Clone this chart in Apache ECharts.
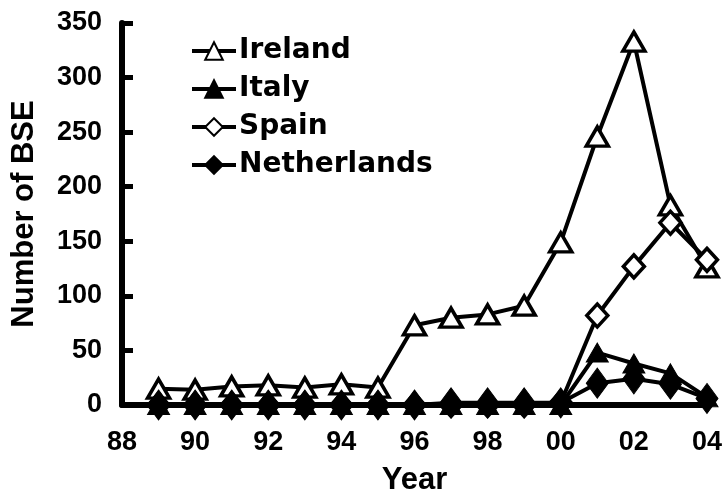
<!DOCTYPE html>
<html>
<head>
<meta charset="utf-8">
<script src="https://cdn.jsdelivr.net/npm/echarts@6/dist/echarts.min.js"></script>
<style>
  html, body { margin: 0; padding: 0; background: #fff; }
  #chart { width: 725px; height: 501px; }
</style>
</head>
<body>
<div id="chart"></div>
<script>
// Annual BSE cases, 1989-2004
const years = [1989, 1990, 1991, 1992, 1993, 1994, 1995, 1996, 1997, 1998, 1999, 2000, 2001, 2002, 2003, 2004];
const ireland = [15, 14, 17, 18, 16, 19, 16, 73, 80, 83, 91, 149, 246, 333, 183, 126];
const italy = [0, 0, 0, 0, 0, 0, 0, 0, 0, 0, 0, 0, 48, 38, 29, 7];
const spain = [0, 0, 0, 0, 0, 0, 0, 0, 0, 0, 0, 2, 82, 127, 167, 133];
const netherlands = [0, 0, 0, 0, 0, 0, 0, 0, 2, 2, 2, 2, 20, 24, 19, 6];

const xTicks = { min: 1988, max: 2004, step: 2 };
const yTicks = { min: 0, max: 350, step: 50 };

const FONT = '"Liberation Sans", Arial, sans-serif';
const WIDE_FONT = '"DejaVu Sans", sans-serif';
const INK = '#000';

function pairs(vals) {
  return years.map((y, i) => [y, vals[i]]);
}

function lineSeries(name, vals, symbol, size, hollow) {
  return {
    name: name,
    type: 'line',
    data: pairs(vals),
    symbol: symbol,
    symbolSize: size,
    showAllSymbol: true,
    lineStyle: { color: INK, width: 4 },
    itemStyle: {
      color: hollow ? '#fff' : INK,
      borderColor: INK,
      borderWidth: hollow ? 3.5 : 1
    },
    emphasis: { disabled: true },
    animation: false
  };
}

const chart = echarts.init(document.getElementById('chart'), null, { renderer: 'canvas' });

chart.setOption({
  backgroundColor: '#fff',
  animation: false,
  grid: { left: 122, right: 17, top: 23, bottom: 95, containLabel: false },
  legend: {
    orient: 'vertical',
    left: 190,
    top: 37,
    padding: 0,
    itemGap: 10,
    itemWidth: 44,
    itemHeight: 22,
    lineStyle: { width: 'inherit' },
    textStyle: {
      fontFamily: WIDE_FONT, fontWeight: 'bold', fontSize: 28, color: INK,
      lineHeight: 24, padding: [0, 0, 0, -2]
    },
    data: ['Ireland', 'Italy', 'Spain', 'Netherlands']
  },
  xAxis: {
    type: 'value',
    min: xTicks.min,
    max: xTicks.max,
    interval: xTicks.step,
    name: 'Year',
    nameLocation: 'middle',
    nameGap: 60,
    nameTextStyle: { fontFamily: FONT, fontWeight: 'bold', fontSize: 31, color: INK },
    axisLine: { lineStyle: { color: INK, width: 6 } },
    axisTick: { show: false },
    splitLine: { show: false },
    axisLabel: {
      margin: 24,
      fontFamily: FONT, fontWeight: 'bold', fontSize: 27, color: INK,
      formatter: v => String(v).slice(2)
    }
  },
  yAxis: {
    type: 'value',
    min: yTicks.min,
    max: yTicks.max,
    interval: yTicks.step,
    name: 'Number of BSE',
    nameLocation: 'middle',
    nameRotate: 90,
    nameGap: 82,
    nameTextStyle: { fontFamily: FONT, fontWeight: 'bold', fontSize: 31, color: INK },
    axisLine: { show: true, lineStyle: { color: INK, width: 6 } },
    axisTick: { show: true, inside: true, length: 11, lineStyle: { color: INK, width: 5 } },
    splitLine: { show: false },
    axisLabel: {
      margin: 20,
      fontFamily: FONT, fontWeight: 'bold', fontSize: 27, color: INK
    }
  },
  series: [
    lineSeries('Ireland', ireland, 'triangle', [22, 19], true),
    lineSeries('Italy', italy, 'triangle', [22, 19], false),
    lineSeries('Spain', spain, 'diamond', [21, 23], true),
    lineSeries('Netherlands', netherlands, 'diamond', [22, 30], false)
  ]
});
</script>
</body>
</html>
